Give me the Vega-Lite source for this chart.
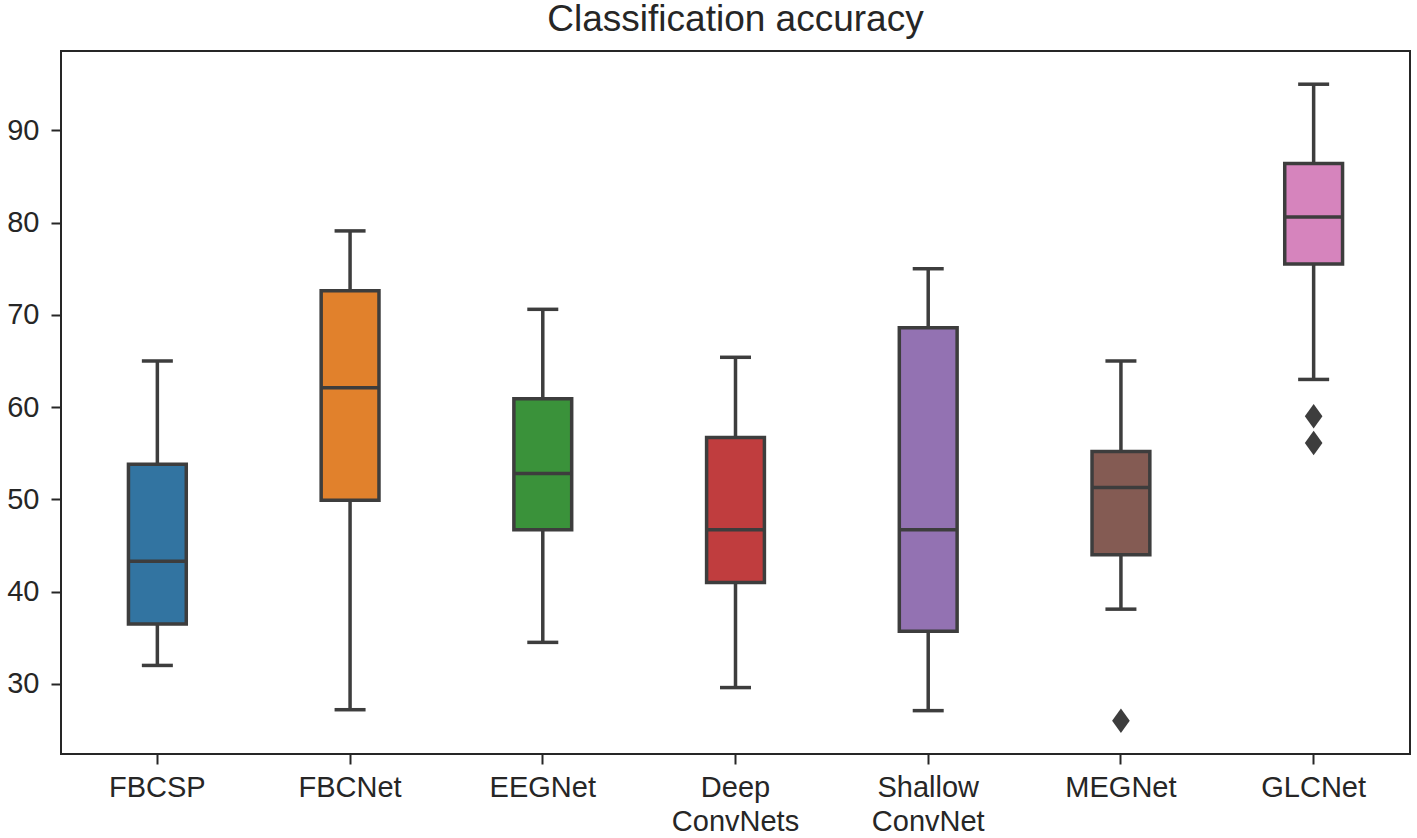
{
  "$schema": "https://vega.github.io/schema/vega-lite/v6.json",
  "autosize": "none",
  "padding": {"left": 61, "top": 51, "right": 7, "bottom": 84},
  "width": 1349,
  "height": 703,
  "background": "white",
  "title": {
    "text": "Classification accuracy",
    "font": "Liberation Sans",
    "fontSize": 37,
    "fontWeight": "normal",
    "color": "#262626",
    "anchor": "middle",
    "frame": "group",
    "baseline": "bottom",
    "offset": 12,
    "dy": 37
  },
  "datasets": {
    "boxes": [
      {"model": "FBCSP", "min": 32.0, "q1": 36.5, "median": 43.3, "q3": 53.8, "max": 65.0},
      {"model": "FBCNet", "min": 27.2, "q1": 49.9, "median": 62.1, "q3": 72.6, "max": 79.1},
      {"model": "EEGNet", "min": 34.5, "q1": 46.7, "median": 52.8, "q3": 60.9, "max": 70.6},
      {"model": "Deep ConvNets", "min": 29.6, "q1": 41.0, "median": 46.7, "q3": 56.7, "max": 65.4},
      {"model": "Shallow ConvNet", "min": 27.1, "q1": 35.7, "median": 46.7, "q3": 68.6, "max": 75.0},
      {"model": "MEGNet", "min": 38.1, "q1": 44.0, "median": 51.3, "q3": 55.2, "max": 65.0},
      {"model": "GLCNet", "min": 63.0, "q1": 75.5, "median": 80.6, "q3": 86.4, "max": 95.0}
    ],
    "outliers": [
      {"model": "MEGNet", "value": 26.0},
      {"model": "GLCNet", "value": 59.0},
      {"model": "GLCNet", "value": 56.1}
    ]
  },
  "encoding": {
    "x": {
      "field": "model",
      "type": "nominal",
      "sort": null,
      "scale": {
        "domain": ["FBCSP", "FBCNet", "EEGNet", "Deep ConvNets", "Shallow ConvNet", "MEGNet", "GLCNet"],
        "paddingInner": 0,
        "paddingOuter": 0
      },
      "axis": {
        "title": null,
        "labelAngle": 0,
        "labelExpr": "split(datum.label, ' ')",
        "labelLineHeight": 34,
        "labelPadding": 9
      }
    }
  },
  "layer": [
    {
      "data": {"name": "boxes"},
      "mark": {"type": "rule", "color": "#3d3d3d", "strokeWidth": 3.5},
      "encoding": {
        "y": {
          "field": "min",
          "type": "quantitative",
          "scale": {"domain": [22.4, 98.6], "nice": false, "zero": false},
          "axis": {"title": null, "values": [30, 40, 50, 60, 70, 80, 90], "labelPadding": 12}
        },
        "y2": {"field": "max"}
      }
    },
    {
      "data": {"name": "boxes"},
      "mark": {"type": "tick", "color": "#3d3d3d", "size": 31, "thickness": 3.5, "opacity": 1},
      "encoding": {"y": {"field": "min", "type": "quantitative"}}
    },
    {
      "data": {"name": "boxes"},
      "mark": {"type": "tick", "color": "#3d3d3d", "size": 31, "thickness": 3.5, "opacity": 1},
      "encoding": {"y": {"field": "max", "type": "quantitative"}}
    },
    {
      "data": {"name": "boxes"},
      "mark": {"type": "bar", "width": {"band": 0.3}, "stroke": "#3d3d3d", "strokeWidth": 3.5, "opacity": 1},
      "encoding": {
        "y": {"field": "q1", "type": "quantitative"},
        "y2": {"field": "q3"},
        "color": {
          "field": "model",
          "type": "nominal",
          "scale": {
            "domain": ["FBCSP", "FBCNet", "EEGNet", "Deep ConvNets", "Shallow ConvNet", "MEGNet", "GLCNet"],
            "range": ["#3274a1", "#e1812c", "#3a923a", "#c03d3e", "#9372b2", "#845b53", "#d684bd"]
          },
          "legend": null
        }
      }
    },
    {
      "data": {"name": "boxes"},
      "mark": {"type": "tick", "color": "#3d3d3d", "size": 57, "thickness": 3.5, "opacity": 1},
      "encoding": {"y": {"field": "median", "type": "quantitative"}}
    },
    {
      "data": {"name": "outliers"},
      "mark": {
        "type": "point",
        "shape": "M0,-1L0.72,0L0,1L-0.72,0Z",
        "filled": true,
        "color": "#3d3d3d",
        "opacity": 1,
        "size": 600
      },
      "encoding": {"y": {"field": "value", "type": "quantitative"}}
    }
  ],
  "config": {
    "view": {"stroke": "#262626", "strokeWidth": 2},
    "axis": {
      "domain": false,
      "grid": false,
      "ticks": true,
      "tickColor": "#262626",
      "tickWidth": 2,
      "tickSize": 10,
      "labelFont": "Liberation Sans",
      "labelFontSize": 29,
      "labelColor": "#262626"
    }
  }
}
